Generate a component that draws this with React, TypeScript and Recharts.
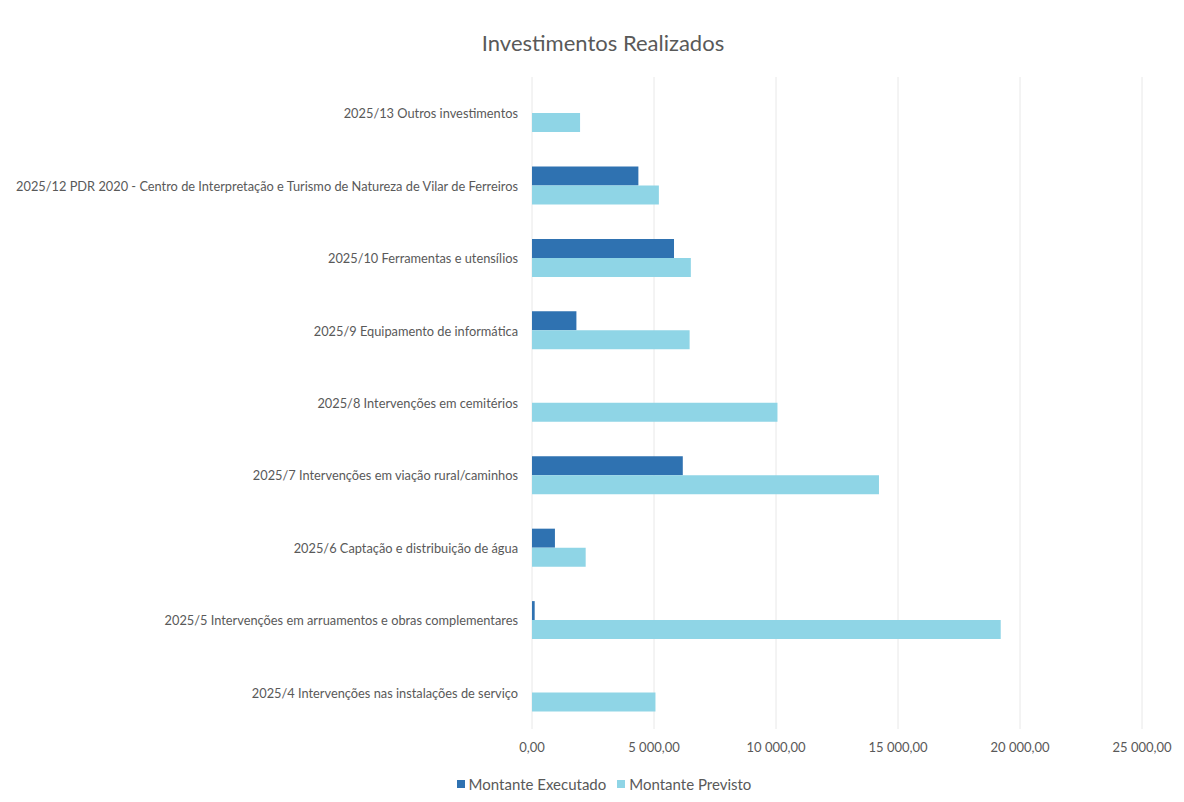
import React from 'react';
import { BarChart, Bar, XAxis, YAxis, CartesianGrid } from 'recharts';

const categories = [
  '2025/13 Outros investimentos',
  '2025/12 PDR 2020 - Centro de Interpretação e Turismo de Natureza de Vilar de Ferreiros',
  '2025/10 Ferramentas e utensílios',
  '2025/9 Equipamento de informática',
  '2025/8 Intervenções em cemitérios',
  '2025/7 Intervenções em viação rural/caminhos',
  '2025/6 Captação e distribuição de água',
  '2025/5 Intervenções em arruamentos e obras complementares',
  '2025/4 Intervenções nas instalações de serviço',
];
const executado = [0, 4360, 5820, 1820, 0, 6180, 940, 110, 0];
const previsto = [1970, 5200, 6510, 6460, 10060, 14220, 2200, 19210, 5060];
const xTicks = [0, 5000, 10000, 15000, 20000, 25000];

const data = categories.map((name, i) => ({
  name,
  executado: executado[i],
  previsto: previsto[i],
}));

const EXEC = '#2f72b1';
const PREV = '#8fd5e6';
const FONT = 'Lato, "Open Sans", sans-serif';
const TXT = '#595959';

const fmt = (v: number) => {
  const [int, dec] = v.toFixed(2).split('.');
  return int.replace(/\B(?=(\d{3})+(?!\d))/g, ' ') + ',' + dec;
};

// plain text tick so the long label stays on one line
const CategoryTick = (props: any) => {
  const { x, y, payload } = props;
  return (
    <text x={x} y={y} textAnchor="end" dominantBaseline="central" fill={TXT} fontSize={12.8} fontFamily={FONT}>
      {payload.value}
    </text>
  );
};

const legendItems = [
  { label: 'Montante Executado', color: EXEC },
  { label: 'Montante Previsto', color: PREV },
];

export default function App() {
  return (
    <div style={{ position: 'relative', width: 1168, height: 786, background: '#fff' }}>
      <div
        style={{
          position: 'absolute',
          top: 21,
          left: 0,
          width: 1190,
          textAlign: 'center',
          fontFamily: FONT,
          fontSize: 22,
          color: TXT,
        }}
      >
        Investimentos Realizados
      </div>
      <BarChart
        width={1168}
        height={786}
        data={data}
        layout="vertical"
        margin={{ top: 69, right: 34, bottom: 35, left: 0 }}
        barGap={0}
        barSize={19}
      >
        <CartesianGrid horizontal={false} stroke="#e8e8e8" />
        <XAxis
          type="number"
          domain={[0, 25000]}
          ticks={xTicks}
          tickFormatter={fmt}
          axisLine={false}
          tickLine={false}
          tick={{ fill: TXT, fontSize: 13, fontFamily: FONT }}
          tickMargin={8}
          height={30}
          interval={0}
        />
        <YAxis
          type="category"
          dataKey="name"
          width={524}
          axisLine={false}
          tickLine={false}
          tickMargin={8}
          interval={0}
          tick={<CategoryTick />}
        />
        <Bar dataKey="executado" name="Montante Executado" fill={EXEC} isAnimationActive={false} />
        <Bar dataKey="previsto" name="Montante Previsto" fill={PREV} isAnimationActive={false} />
      </BarChart>
      <div
        style={{
          position: 'absolute',
          top: 767,
          left: 0,
          width: 1192,
          display: 'flex',
          justifyContent: 'center',
          gap: 11,
          fontFamily: FONT,
          fontSize: 15,
          color: TXT,
        }}
      >
        {legendItems.map((it) => (
          <span key={it.label} style={{ display: 'flex', alignItems: 'center' }}>
            <span style={{ display: 'inline-block', width: 8, height: 8, background: it.color, marginRight: 4 }} />
            {it.label}
          </span>
        ))}
      </div>
    </div>
  );
}
